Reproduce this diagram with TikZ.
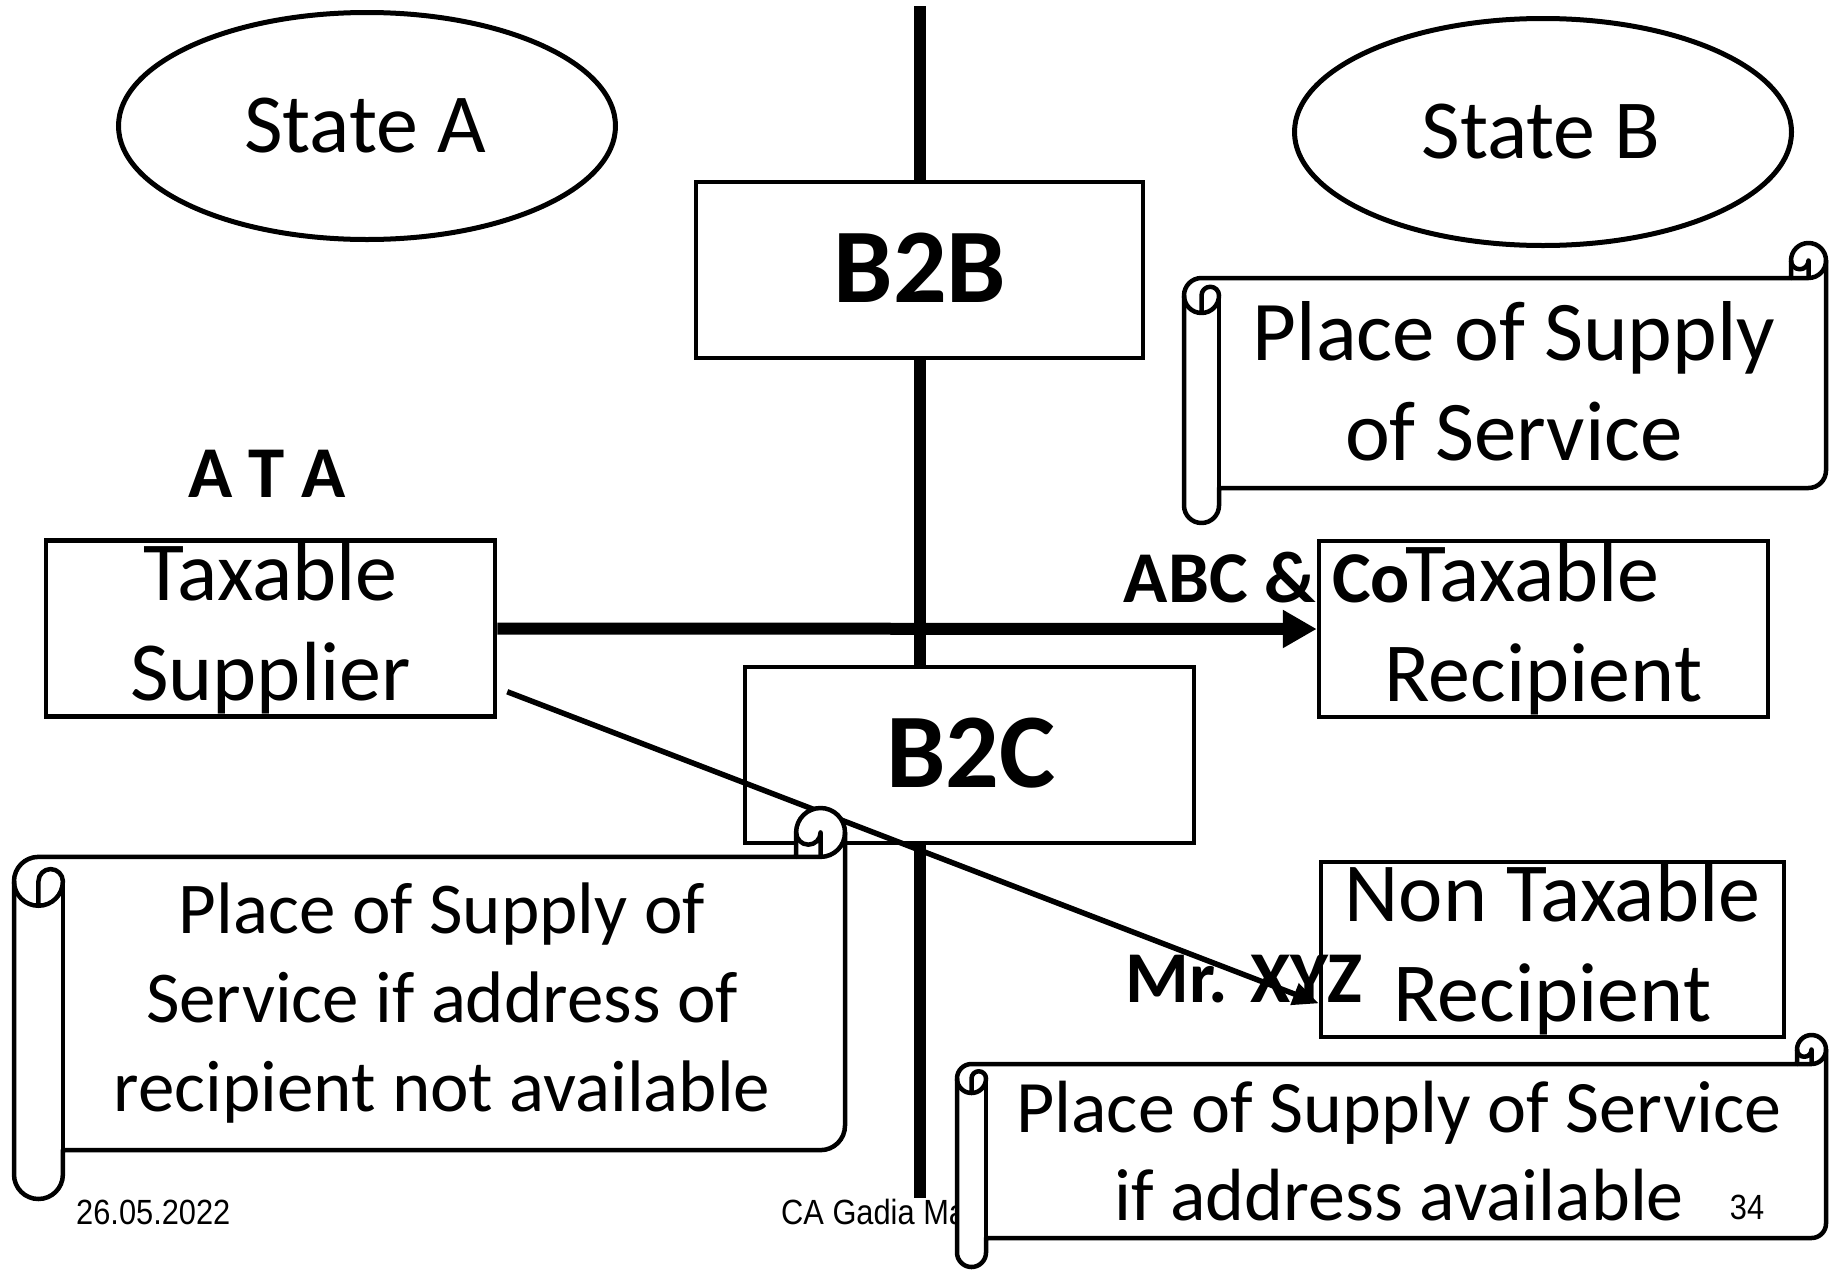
\documentclass[tikz,border=0pt]{standalone}
\usepackage{fontspec}
\setmainfont{Carlito}
\newfontfamily\footfont{Liberation Sans}
\usetikzlibrary{arrows.meta,calc,shapes.geometric}

\tikzset{
  frame/.style={draw=black, line width=4.5pt, fill=white, inner sep=0pt},
  panel/.style={frame, rectangle, minimum width=#1, minimum height=176pt, align=center,
    font=\fontsize{84}{100}\selectfont},
  statebubble/.style={ellipse, draw=black, line width=5pt, fill=white,
    minimum width=497pt, minimum height=227pt, inner sep=0pt},
  stateword/.style={inner sep=0pt, font=\fontsize{84}{98}\selectfont},
  kind/.style={inner sep=0pt, font=\bfseries\fontsize{106}{112}\selectfont},
  tag/.style={inner sep=0pt, font=\bfseries\fontsize{73}{88}\selectfont},
  scrolltext/.style={inner sep=0pt, align=center},
  scrollline/.style={draw=black, line width=4.5pt, line join=round},
  foot/.style={inner sep=0pt, font=\footfont\fontsize{35}{40}\selectfont},
}

% horizontal scroll banner: left, top, width, height (y grows downward)
\newcommand{\scrollbanner}[4]{%
  \begin{scope}[shift={(#1,#2)}]
    \pgfmathsetmacro{\scrW}{#3}%
    \pgfmathsetmacro{\scrH}{#4}%
    \pgfmathsetmacro{\scrC}{0.125*min(#3,#4)}%
    \pgfmathsetmacro{\scrCh}{\scrC/2}%
    \pgfmathsetmacro{\scrCq}{\scrC/4}%
    \path[scrollline, fill=white]
      (0,1.5*\scrC) arc[start angle=180, delta angle=90, radius=\scrCh]
      -- (\scrW-\scrC,\scrC) -- (\scrW-\scrC,\scrCh)
      arc[start angle=180, delta angle=180, radius=\scrCh]
      -- (\scrW,\scrH-1.5*\scrC)
      arc[start angle=0, delta angle=90, radius=\scrCh]
      -- (\scrC,\scrH-\scrC) -- (\scrC,\scrH-\scrCh)
      arc[start angle=0, delta angle=180, radius=\scrCh]
      -- cycle;
    \path[scrollline]
      (\scrW-\scrC,\scrC) -- (\scrW-\scrCh,\scrC)
      arc[start angle=90, delta angle=-90, radius=\scrCh];
    \path[scrollline]
      (\scrW-\scrCh,\scrC) -- (\scrW-\scrCh,\scrCh)
      arc[start angle=0, delta angle=180, radius=\scrCq];
    \path[scrollline]
      (\scrCh,2*\scrC) -- (\scrCh,1.5*\scrC)
      arc[start angle=180, delta angle=180, radius=\scrCq]
      arc[start angle=0, delta angle=180, radius=\scrCh];
    \path[scrollline] (\scrC,1.5*\scrC) -- (\scrC,\scrH-\scrC);
  \end{scope}%
}

\begin{document}
\begin{tikzpicture}[x=1pt, y=-1pt]
\useasboundingbox (0,0) rectangle (1833,1269);
\fill[white] (0,0) rectangle (1833,1269);

% border between the two states
\coordinate (divtop) at (920,6);
\coordinate (divbot) at (920,1198);
\draw[line width=12pt] (divtop) -- (divbot);

% the two states
\node[statebubble] (stA) at (367,126) {};
\node[statebubble] (stB) at (1543,132) {};
\node[stateword, anchor=base] (stAt) at (365,152) {State A};
\node[stateword, anchor=base] (stBt) at (1541,158) {State B};

% kinds of supply
\node[panel=447pt] (b2b) at (919.5,270) {};
\node[kind, anchor=base] (b2bt) at (920,302) {B2B};
\node[panel=449pt] (b2c) at (969.5,755) {};
\node[kind, anchor=base] (b2ct) at (971,787) {B2C};

% parties
\node[panel=449pt] (sup) at (270.5,628.5) {Taxable\\Supplier};
\node[panel=449pt] (rec) at (1543.5,629) {Taxable\hspace*{22pt}\\Recipient};
\node[panel=463pt, minimum height=175pt] (ntr) at (1552.5,949.5) {Non Taxable\\Recipient};

\node[tag, anchor=base] (ata) at (267,497) {A T A};
\node[tag, anchor=base] (abc) at (1267,602) {ABC \& Co};
\node[tag, anchor=base] (xyz) at (1244,1002) {Mr. XYZ};

% supplies
\draw[line width=12pt, -{Triangle[length=34pt,width=36pt]}] (sup.east) -- (rec.west);
\coordinate (dstart) at ($(sup.south east)+(10,-27)$);
\coordinate (dend) at ($(ntr.south west)!0.2!(ntr.north west)$);
\draw[line width=5.5pt, -{Triangle[length=26pt,width=22pt]}] (dstart) -- (dend);

% place of supply notes
\scrollbanner{1184}{243}{642}{280}
\node[scrolltext, font=\fontsize{85}{100}\selectfont] (posB) at (1514,381)
  {Place of Supply\\of Service};
\scrollbanner{14}{808}{831}{391}
\node[scrolltext, font=\fontsize{73}{89}\selectfont] (posA) at (442,1003)
  {Place of Supply of\\Service if address of\\recipient not available};

% footer
\node[foot, anchor=base west] (date) at (76,1224) {\scalebox{0.88}[1]{26.05.2022}};
\node[foot, anchor=base west] (author) at (781,1224) {\scalebox{0.88}[1]{CA Gadia Ma}};

\scrollbanner{957}{1035}{869}{232}
\node[scrolltext, font=\fontsize{74}{88}\selectfont] (posC) at (1399,1151)
  {Place of Supply of Service\\if address available};

\node[foot, anchor=base] (pgno) at (1747,1219) {\scalebox{0.88}[1]{34}};
\end{tikzpicture}
\end{document}
